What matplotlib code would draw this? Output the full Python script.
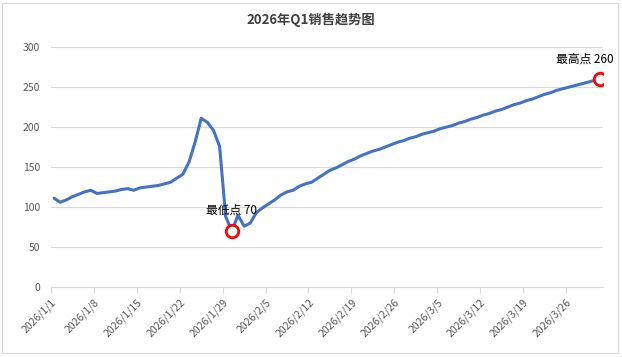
import pandas as pd
import matplotlib
matplotlib.use("Agg")
import matplotlib.pyplot as plt
from matplotlib.patches import Rectangle

plt.rcParams['font.family'] = ['Noto Sans CJK SC', 'DejaVu Sans']

# Dados diários
dates = pd.date_range("2026-01-01", "2026-03-31", freq="D")
sales = [111, 106, 109, 113, 116, 119, 121, 117, 118, 119,
         120, 122, 123, 121, 124, 125, 126, 127, 129, 131,
         136, 141, 156, 181, 211, 206, 196, 176, 88, 70,
         90, 76, 80, 93, 99, 104, 109, 115, 119, 121,
         126, 129, 131, 136, 141, 146, 149, 153, 157, 160,
         164, 167, 170, 172, 175, 178, 181, 183, 186, 188,
         191, 193, 195, 198, 200, 202, 205, 207, 210, 212,
         215, 217, 220, 222, 225, 228, 230, 233, 235, 238,
         241, 243, 246, 248, 250, 252, 254, 256, 258, 260]
yticks = [0, 50, 100, 150, 200, 250, 300]

x = list(range(len(sales)))
tick_pos = [i - 0.5 for i in range(0, len(sales), 7)]
tick_labels = [f"{d.year}/{d.month}/{d.day}" for d in dates[::7]]

i_min = sales.index(min(sales))
i_max = sales.index(max(sales))

fig = plt.figure(figsize=(6.22, 3.57), dpi=100)
ax = fig.add_axes([0.082, 0.196, 0.887, 0.672])

ax.plot(x, sales, color="#4472C4", linewidth=2.2, solid_capstyle="round", zorder=3)
ax.plot([i_min, i_max], [sales[i_min], sales[i_max]], linestyle="none", marker="o",
        markersize=9, markerfacecolor="white", markeredgecolor="#FF0000",
        markeredgewidth=2, zorder=4)

ax.annotate(f"最低点 {sales[i_min]}", (i_min, sales[i_min]), xytext=(0, 10),
            textcoords="offset points", ha="center", va="bottom", fontsize=8.5, color="black")
ax.annotate(f"最高点 {sales[i_max]}", (i_max, sales[i_max]), xytext=(-11, 10),
            textcoords="offset points", ha="center", va="bottom", fontsize=8.5, color="black")

ax.set_xlim(-0.5, len(sales) - 0.5)
ax.set_ylim(0, 300)
ax.set_yticks(yticks)
ax.set_xticks(tick_pos)
ax.set_xticklabels(tick_labels, rotation=45, ha="right", rotation_mode="anchor")
ax.tick_params(axis="x", colors="#595959", labelsize=7.5, length=4, width=0.8, color="#D9D9D9", pad=3)
ax.tick_params(axis="y", colors="#595959", labelsize=7.5, length=0, pad=8)
ax.grid(axis="y", color="#D9D9D9", linewidth=0.8)
ax.set_axisbelow(True)
for s in ["left", "right", "top"]:
    ax.spines[s].set_visible(False)
ax.spines["bottom"].set_color("#D9D9D9")
ax.spines["bottom"].set_linewidth(0.8)

fig.text(0.5, 0.945, "2026年Q1销售趋势图", ha="center", va="center",
         fontsize=9.5, fontweight="bold", color="#404040")

# borda da área do gráfico
fig.patches.append(Rectangle((0.004, 0.012), 0.99, 0.98, transform=fig.transFigure,
                             fill=False, edgecolor="#D9D9D9", linewidth=0.8))

fig.savefig("out.png", dpi=100)
